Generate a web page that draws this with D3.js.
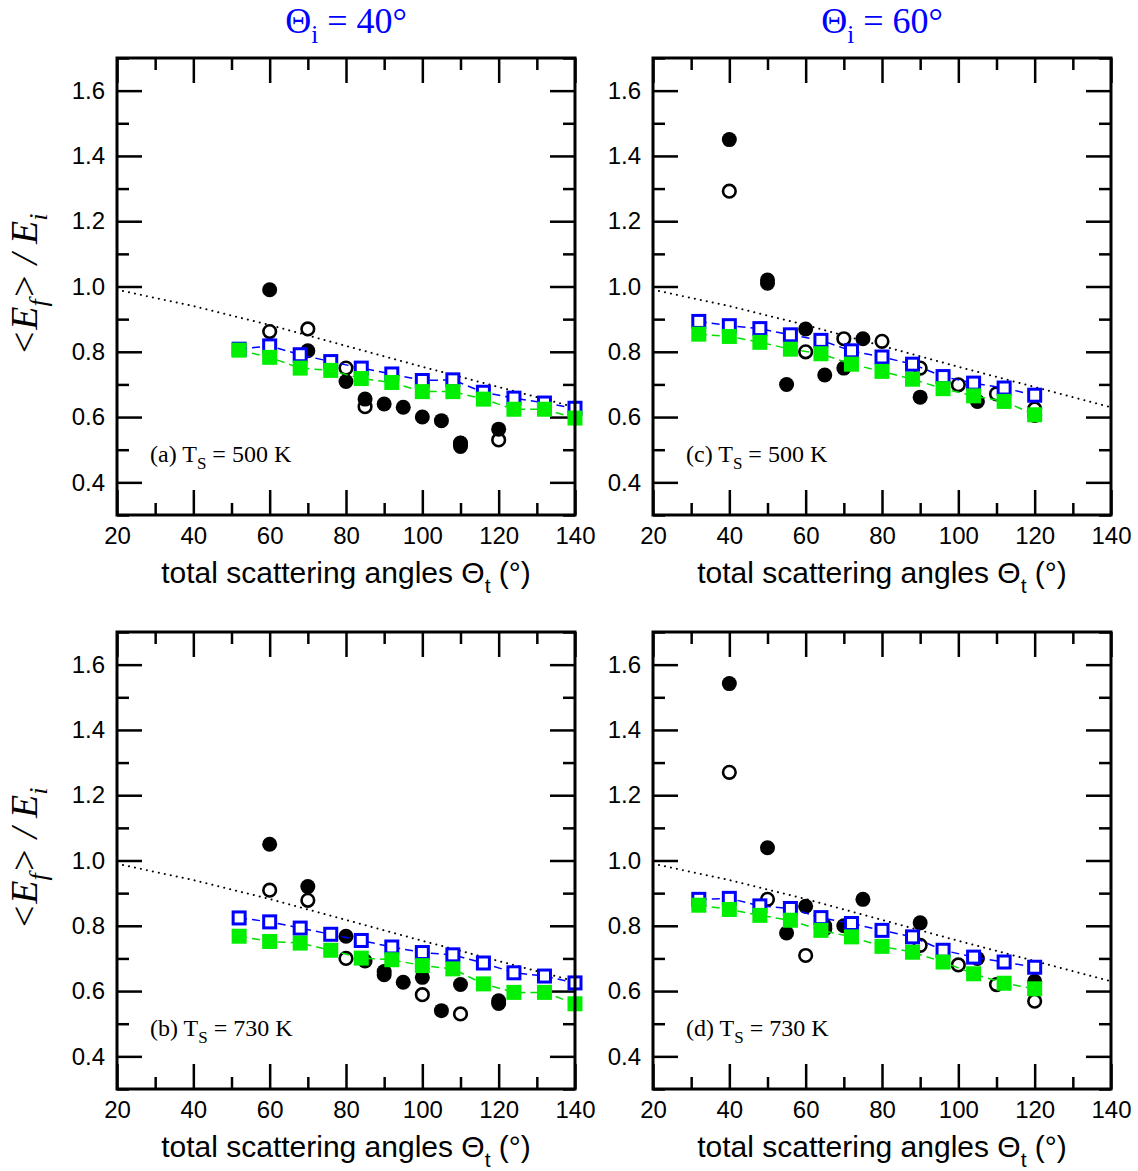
<!DOCTYPE html>
<html>
<head>
<meta charset="utf-8">
<script src="https://cdn.jsdelivr.net/npm/d3@7"></script>
<style>
  body { margin: 0; background: #fff; }
  svg { display: block; }
</style>
</head>
<body>
<script>
// square series angles (model), step 8 deg
var sqAngles40 = [52, 60, 68, 76, 84, 92, 100, 108, 116, 124, 132, 140];
var sqAngles60 = [32, 40, 48, 56, 64, 72, 80, 88, 96, 104, 112, 120];

// dotted curve, same in every panel
var dotAngles = [20, 40, 60, 80, 100, 120, 140];
var dotRatio = [0.99, 0.94, 0.882, 0.818, 0.754, 0.692, 0.63];

// (a) Ti = 40, Ts = 500 K
var blueA = [0.808, 0.818, 0.791, 0.770, 0.750, 0.732, 0.712, 0.714, 0.676, 0.658, 0.643, 0.627];
var greenA = [0.805, 0.783, 0.750, 0.743, 0.718, 0.706, 0.678, 0.678, 0.655, 0.624, 0.624, 0.597];
var filledAngA = [60, 70, 80, 85, 90, 95, 100, 105, 110, 110, 120];
var filledA = [0.99, 0.803, 0.709, 0.655, 0.64, 0.63, 0.60, 0.589, 0.52, 0.51, 0.563];
var openAngA = [60, 70, 80, 85, 110, 120];
var openA = [0.862, 0.87, 0.75, 0.632, 0.52, 0.53];

// (b) Ti = 40, Ts = 730 K
var blueB = [0.824, 0.812, 0.793, 0.774, 0.755, 0.735, 0.718, 0.711, 0.686, 0.656, 0.646, 0.625];
var greenB = [0.768, 0.752, 0.747, 0.725, 0.701, 0.696, 0.678, 0.668, 0.622, 0.596, 0.596, 0.561];
var filledAngB = [60, 70, 80, 85, 90, 90, 95, 100, 105, 110, 120, 120];
var filledB = [1.05, 0.92, 0.768, 0.692, 0.66, 0.65, 0.627, 0.642, 0.54, 0.62, 0.57, 0.562];
var openAngB = [60, 70, 80, 100, 110];
var openB = [0.909, 0.878, 0.70, 0.589, 0.53];

// (c) Ti = 60, Ts = 500 K
var blueC = [0.893, 0.880, 0.871, 0.852, 0.835, 0.803, 0.784, 0.762, 0.724, 0.704, 0.689, 0.667];
var greenC = [0.854, 0.847, 0.829, 0.808, 0.794, 0.762, 0.740, 0.716, 0.687, 0.665, 0.648, 0.607];
var filledAngC = [40, 50, 50, 55, 60, 65, 70, 75, 90, 105, 120];
var filledC = [1.45, 1.02, 1.01, 0.70, 0.87, 0.729, 0.75, 0.84, 0.661, 0.648, 0.605];
var openAngC = [40, 60, 70, 80, 90, 100, 110, 120];
var openC = [1.292, 0.80, 0.84, 0.832, 0.75, 0.699, 0.671, 0.625];

// (d) Ti = 60, Ts = 730 K
var blueD = [0.881, 0.884, 0.861, 0.853, 0.825, 0.807, 0.786, 0.766, 0.725, 0.704, 0.689, 0.673];
var greenD = [0.863, 0.850, 0.832, 0.817, 0.786, 0.766, 0.737, 0.719, 0.689, 0.653, 0.624, 0.607];
var filledAngD = [40, 50, 55, 60, 65, 70, 75, 90, 105, 120];
var filledD = [1.542, 1.039, 0.778, 0.86, 0.80, 0.80, 0.881, 0.809, 0.70, 0.63];
var openAngD = [40, 50, 60, 65, 90, 100, 110, 120];
var openD = [1.27, 0.881, 0.709, 0.791, 0.74, 0.68, 0.62, 0.569];

var xMajor = [20, 40, 60, 80, 100, 120, 140];
var xMinor = [30, 50, 70, 90, 110, 130];
var yMajor = [0.4, 0.6, 0.8, 1.0, 1.2, 1.4, 1.6];
var yMinor = [0.3, 0.5, 0.7, 0.9, 1.1, 1.3, 1.5, 1.7];

var W = 1138, H = 1171;
var svg = d3.select("body").append("svg")
  .attr("width", W)
  .attr("height", H);

var panels = [
  {left: 117, top: 58, label: "(a)", ts: "500", sq: sqAngles40, blue: blueA, green: greenA,
   fa: filledAngA, fv: filledA, oa: openAngA, ov: openA, ylab: true},
  {left: 653, top: 58, label: "(c)", ts: "500", sq: sqAngles60, blue: blueC, green: greenC,
   fa: filledAngC, fv: filledC, oa: openAngC, ov: openC, ylab: false},
  {left: 117, top: 632, label: "(b)", ts: "730", sq: sqAngles40, blue: blueB, green: greenB,
   fa: filledAngB, fv: filledB, oa: openAngB, ov: openB, ylab: true},
  {left: 653, top: 632, label: "(d)", ts: "730", sq: sqAngles60, blue: blueD, green: greenD,
   fa: filledAngD, fv: filledD, oa: openAngD, ov: openD, ylab: false}
];

var pw = 458, ph = 457;
var sans = "'Liberation Sans', Arial, sans-serif";
var serif = "'Liberation Serif', 'Times New Roman', serif";

function zip(a, b) {
  return a.map(function(v, i) { return [v, b[i]]; });
}

panels.forEach(function(p) {
  var g = svg.append("g").attr("transform", "translate(" + p.left + "," + p.top + ")");
  var x = d3.scaleLinear().domain([20, 140]).range([0, pw]);
  var y = d3.scaleLinear().domain([0.3, 1.7]).range([ph, 0]);

  g.append("clipPath").attr("id", "clip" + p.label.charAt(1))
    .append("rect").attr("width", pw).attr("height", ph);

  // axes: major / minor, ticks pointing inward
  function styleAxis(sel) {
    sel.select(".domain").remove();
    sel.selectAll(".tick line").attr("stroke", "#000").attr("stroke-width", 2.5);
    sel.selectAll(".tick text").attr("fill", "#000")
      .style("font-family", sans).style("font-size", "24px");
  }
  g.append("g").attr("transform", "translate(0," + ph + ")")
    .call(d3.axisBottom(x).tickValues(xMajor).tickSize(-25).tickPadding(12).tickFormat(d3.format("d")))
    .call(styleAxis);
  g.append("g").attr("transform", "translate(0," + ph + ")")
    .call(d3.axisBottom(x).tickValues(xMinor).tickSize(-12).tickFormat(""))
    .call(styleAxis);
  g.append("g")
    .call(d3.axisTop(x).tickValues(xMajor).tickSize(-25).tickFormat(""))
    .call(styleAxis);
  g.append("g")
    .call(d3.axisTop(x).tickValues(xMinor).tickSize(-12).tickFormat(""))
    .call(styleAxis);
  g.append("g")
    .call(d3.axisLeft(y).tickValues(yMajor).tickSize(-25).tickPadding(12).tickFormat(d3.format(".1f")))
    .call(styleAxis);
  g.append("g")
    .call(d3.axisLeft(y).tickValues(yMinor).tickSize(-12).tickFormat(""))
    .call(styleAxis);
  g.append("g").attr("transform", "translate(" + pw + ",0)")
    .call(d3.axisRight(y).tickValues(yMajor).tickSize(-25).tickFormat(""))
    .call(styleAxis);
  g.append("g").attr("transform", "translate(" + pw + ",0)")
    .call(d3.axisRight(y).tickValues(yMinor).tickSize(-12).tickFormat(""))
    .call(styleAxis);

  var plot = g.append("g").attr("clip-path", "url(#clip" + p.label.charAt(1) + ")");

  var line = d3.line().x(function(d) { return x(d[0]); }).y(function(d) { return y(d[1]); });

  // dotted curve
  plot.append("path").datum(zip(dotAngles, dotRatio))
    .attr("d", line).attr("fill", "none").attr("stroke", "#000")
    .attr("stroke-width", 2).attr("stroke-dasharray", "0.1 6").attr("stroke-linecap", "round");

  // open circles then filled circles
  g.selectAll(".open").data(zip(p.oa, p.ov)).enter().append("circle")
    .attr("cx", function(d) { return x(d[0]); }).attr("cy", function(d) { return y(d[1]); })
    .attr("r", 6.3).attr("fill", "#fff").attr("stroke", "#000").attr("stroke-width", 2.6);
  g.selectAll(".filled").data(zip(p.fa, p.fv)).enter().append("circle")
    .attr("cx", function(d) { return x(d[0]); }).attr("cy", function(d) { return y(d[1]); })
    .attr("r", 7.5).attr("fill", "#000");

  // blue open squares with dashed line
  var blueData = zip(p.sq, p.blue);
  g.append("path").datum(blueData).attr("d", line).attr("fill", "none")
    .attr("stroke", "#0000ff").attr("stroke-width", 1.5).attr("stroke-dasharray", "8 5");
  g.selectAll(".bsq").data(blueData).enter().append("rect")
    .attr("x", function(d) { return x(d[0]) - 6; }).attr("y", function(d) { return y(d[1]) - 6; })
    .attr("width", 12).attr("height", 12)
    .attr("fill", "#fff").attr("stroke", "#0000ff").attr("stroke-width", 3);

  // green filled squares with dashed line
  var greenData = zip(p.sq, p.green);
  g.append("path").datum(greenData).attr("d", line).attr("fill", "none")
    .attr("stroke", "#00e000").attr("stroke-width", 1.5).attr("stroke-dasharray", "8 5");
  g.selectAll(".gsq").data(greenData).enter().append("rect")
    .attr("x", function(d) { return x(d[0]) - 7.5; }).attr("y", function(d) { return y(d[1]) - 7.5; })
    .attr("width", 15).attr("height", 15)
    .attr("fill", "#00ee00");

  // frame
  g.append("rect").attr("width", pw).attr("height", ph)
    .attr("fill", "none").attr("stroke", "#000").attr("stroke-width", 3);

  // panel note
  var note = g.append("text").attr("x", 33).attr("y", y(0.4) - 20)
    .style("font-family", serif).style("font-size", "24px");
  note.append("tspan").text(p.label + " T");
  note.append("tspan").attr("dy", 7).style("font-size", "17px").text("S");
  note.append("tspan").attr("dy", -7).text(" = " + p.ts + " K");

  // x title
  var xt = g.append("text").attr("x", pw / 2).attr("y", ph + 68)
    .attr("text-anchor", "middle")
    .style("font-family", sans).style("font-size", "30px");
  xt.append("tspan").text("total scattering angles \u0398");
  xt.append("tspan").attr("dy", 10).style("font-size", "21px").text("t");
  xt.append("tspan").attr("dy", -10).text(" (\u00b0)");

  // y title
  if (p.ylab) {
    var yt = g.append("text")
      .attr("transform", "translate(" + (-80) + "," + (ph / 2 - 2) + ") rotate(-90)")
      .attr("text-anchor", "middle")
      .style("font-family", serif)
      .style("font-style", "italic").style("font-size", "38px");
    yt.append("tspan").text("<E");
    yt.append("tspan").attr("dy", 10).style("font-size", "26px").text("f");
    yt.append("tspan").attr("dy", -10).text("> / E");
    yt.append("tspan").attr("dy", 10).style("font-size", "26px").text("i");
  }
});

// column titles
[["40", 117], ["60", 653]].forEach(function(t) {
  var tt = svg.append("text").attr("x", t[1] + pw / 2).attr("y", 33)
    .attr("text-anchor", "middle").attr("fill", "#0000ff")
    .style("font-family", serif).style("font-size", "36px");
  tt.append("tspan").text("\u0398");
  tt.append("tspan").attr("dy", 10).style("font-size", "25px").text("i");
  tt.append("tspan").attr("dy", -10).text(" = " + t[0] + "\u00b0");
});
</script>
</body>
</html>
